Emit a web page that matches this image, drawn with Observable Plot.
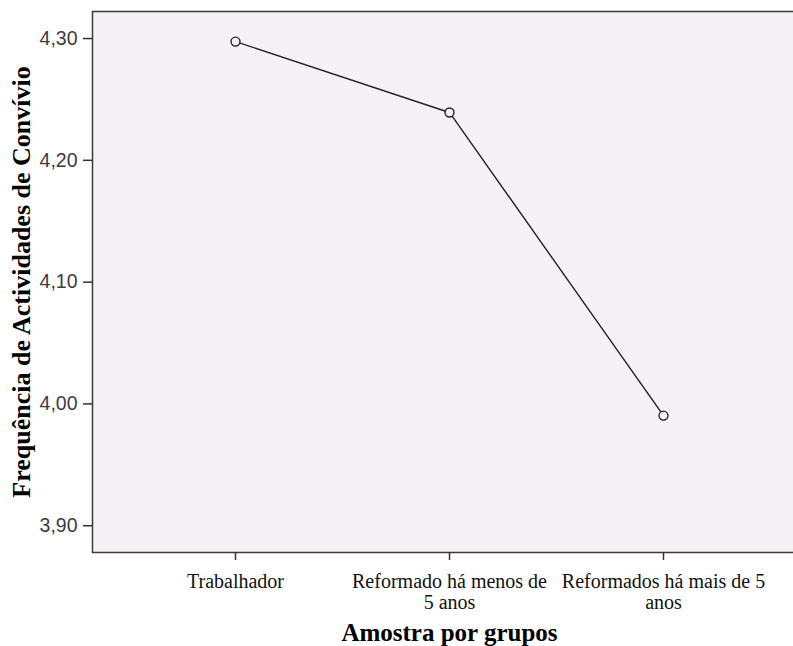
<!DOCTYPE html>
<html>
<head>
<meta charset="utf-8">
<script src="https://cdn.jsdelivr.net/npm/d3@7"></script>
<script src="https://cdn.jsdelivr.net/npm/@observablehq/plot@0.6"></script>
<style>
  html, body { margin: 0; padding: 0; background: #fff; overflow: hidden; }
  #wrap { width: 793px; height: 646px; overflow: hidden; }
  #wrap svg { max-width: none !important; }
</style>
</head>
<body>
<div id="wrap"></div>
<script>
const categories = ["Trabalhador", "Reformado há menos de 5 anos", "Reformados há mais de 5 anos"];
const categoryLabels = ["Trabalhador", "Reformado há menos de\n5 anos", "Reformados há mais de 5\nanos"];
const values = [4.2975, 4.2393, 3.9904];
const yTicks = [3.9, 4.0, 4.1, 4.2, 4.3];
const yDomain = [3.878, 4.3222];

const data = categories.map((c, i) => ({cat: c, v: values[i]}));
const labelOf = new Map(categories.map((c, i) => [c, categoryLabels[i]]));
const fmt = d => d.toFixed(2).replace(".", ",");

const chart = Plot.plot({
  width: 806,
  height: 646,
  marginLeft: 92,
  marginRight: 0,
  marginTop: 11,
  marginBottom: 94,
  style: {background: "#fff", overflow: "hidden", maxWidth: "none"},
  x: {type: "point", domain: categories, padding: 0.667},
  y: {domain: yDomain},
  marks: [
    Plot.frame({fill: "#F5F1F5", stroke: "#3a3a3a", strokeWidth: 1.5}),
    Plot.axisY({
      ticks: yTicks, tickFormat: fmt, tickSize: 9, tickPadding: 6,
      stroke: "#333", strokeWidth: 1.5,
      fontSize: 19.5, fontFamily: "Liberation Sans, Arial, sans-serif", fill: "#3c3c3c",
      label: null
    }),
    Plot.axisY({
      ticks: [], label: "Frequência de Actividades de Convívio",
      labelAnchor: "center", labelArrow: "none", labelOffset: 81,
      fontSize: 26, fontWeight: "bold", fontFamily: "Liberation Serif, Times New Roman, serif", fill: "#000"
    }),
    Plot.axisX({
      tickFormat: d => labelOf.get(d), tickSize: 8, tickPadding: 12,
      stroke: "#333", strokeWidth: 1.5,
      fontSize: 20, lineHeight: 1.08, fontFamily: "Liberation Serif, Times New Roman, serif", fill: "#111",
      label: null
    }),
    Plot.axisX({
      ticks: [], label: "Amostra por grupos",
      labelAnchor: "center", labelArrow: "none", labelOffset: 88,
      fontSize: 25, fontWeight: "bold", fontFamily: "Liberation Serif, Times New Roman, serif", fill: "#000"
    }),
    Plot.line(data, {x: "cat", y: "v", stroke: "#222", strokeWidth: 1.4}),
    Plot.dot(data, {x: "cat", y: "v", r: 4.5, stroke: "#222", strokeWidth: 1.4, fill: "#F5F1F5"})
  ]
});
document.getElementById("wrap").appendChild(chart);
</script>
</body>
</html>
